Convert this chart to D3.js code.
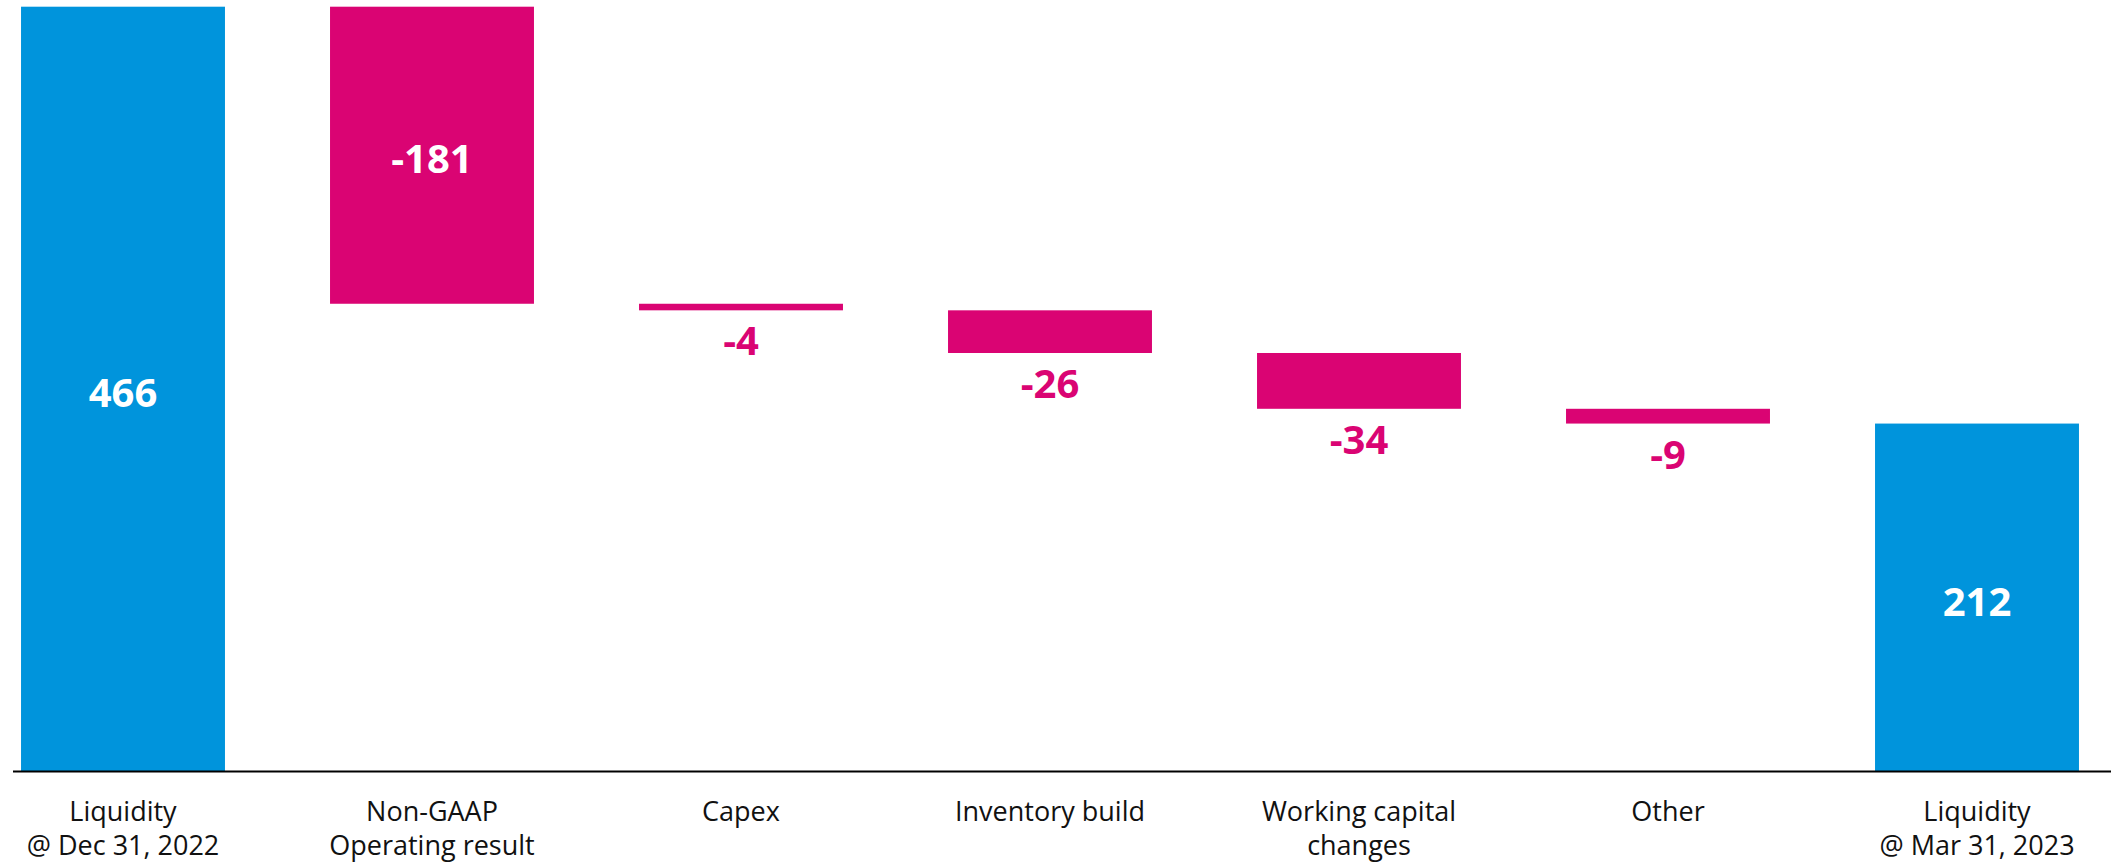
<!DOCTYPE html>
<html>
<head>
<meta charset="utf-8">
<script src="https://cdn.jsdelivr.net/npm/d3@7"></script>
<style>
  html, body { margin: 0; padding: 0; background: #fff; }
  svg { display: block; }
  text { font-family: "Open Sans", "Noto Sans", sans-serif; }
</style>
</head>
<body>
<svg id="chart" width="2111" height="863"></svg>
<script>
// ---- Data ----
const categories = [
  ["Liquidity", "@ Dec 31, 2022"],
  ["Non-GAAP", "Operating result"],
  ["Capex"],
  ["Inventory build"],
  ["Working capital", "changes"],
  ["Other"],
  ["Liquidity", "@ Mar 31, 2023"]
];
const values = [466, -181, -4, -26, -34, -9, 212];
const kinds = ["total", "delta", "delta", "delta", "delta", "delta", "total"];
const labelInside = [true, true, false, false, false, false, true];

// ---- Layout ----
const W = 2111, H = 863;
const baseY = 771.5, topY = 6.7;
const svg = d3.select("#chart");

const blue = "#0094DC";
const pink = "#DA0473";

const x = d3.scaleBand()
  .domain(d3.range(categories.length))
  .range([-31.5, 2131.5])
  .paddingInner(0.34)
  .paddingOuter(0.17);

const y = d3.scaleLinear().domain([0, 466]).range([baseY, topY]);

// compute waterfall segments
let running = 0;
const bars = values.map((v, i) => {
  let y0, y1;
  if (kinds[i] === "total") { y0 = 0; y1 = v; running = v; }
  else { y0 = running; y1 = running + v; running = y1; }
  return { i, v, lo: Math.min(y0, y1), hi: Math.max(y0, y1), kind: kinds[i] };
});

svg.selectAll("rect.bar")
  .data(bars)
  .enter().append("rect")
  .attr("class", "bar")
  .attr("x", d => x(d.i))
  .attr("width", x.bandwidth())
  .attr("y", d => y(d.hi))
  .attr("height", d => y(d.lo) - y(d.hi))
  .attr("fill", d => d.kind === "total" ? blue : pink);

// baseline
svg.append("line")
  .attr("x1", 13).attr("x2", W)
  .attr("y1", baseY).attr("y2", baseY)
  .attr("stroke", "#000").attr("stroke-width", 2);

// value labels
svg.selectAll("text.val")
  .data(bars)
  .enter().append("text")
  .attr("class", "val")
  .attr("x", d => x(d.i) + x.bandwidth() / 2)
  .attr("y", d => labelInside[d.i]
      ? (y(d.hi) + y(d.lo)) / 2 + 18
      : y(d.lo) + 45)
  .attr("text-anchor", "middle")
  .attr("font-size", 40)
  .attr("font-weight", 700)
  .attr("fill", d => labelInside[d.i] ? "#fff" : pink)
  .text(d => d3.format("d")(d.v).replace("−", "-"));

// category labels (one text element per line)
const catLines = [];
categories.forEach((lines, i) => lines.forEach((t, j) => catLines.push({ i, j, t })));
svg.selectAll("text.cat")
  .data(catLines)
  .enter().append("text")
  .attr("class", "cat")
  .attr("x", d => x(d.i) + x.bandwidth() / 2)
  .attr("y", d => 821 + d.j * 34)
  .attr("text-anchor", "middle")
  .attr("font-size", 27)
  .attr("fill", "#111")
  .text(d => d.t);
</script>
</body>
</html>
